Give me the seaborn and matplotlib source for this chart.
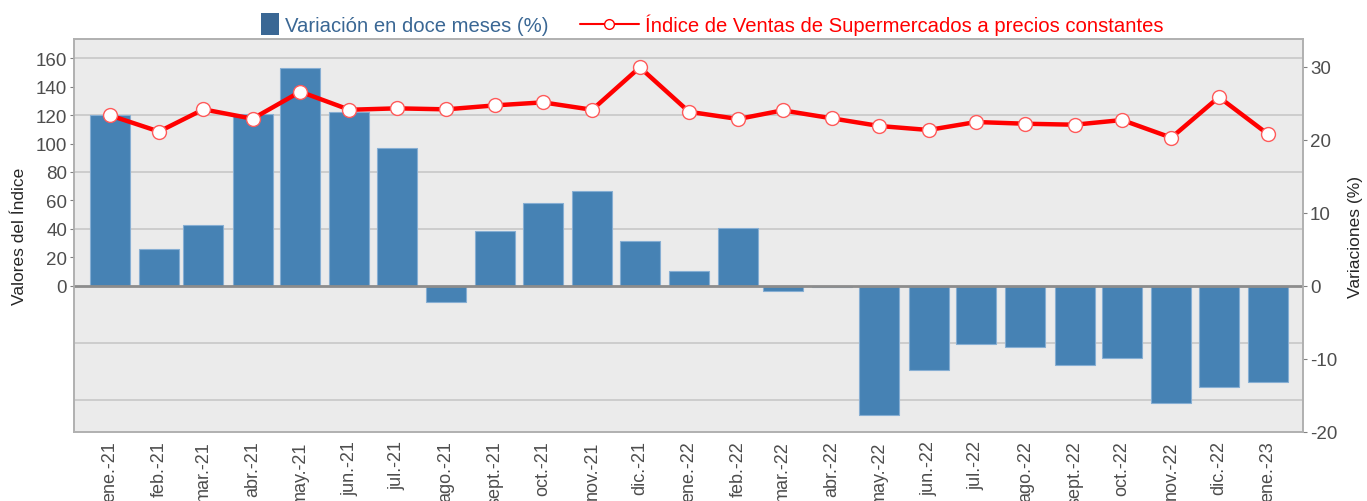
import pandas as pd
import matplotlib.pyplot as plt
import seaborn as sns
from matplotlib.patches import Patch
from matplotlib.lines import Line2D

# monthly data, ene-21 .. ene-23
meses = ['ene.-21', 'feb.-21', 'mar.-21', 'abr.-21', 'may.-21', 'jun.-21', 'jul.-21',
         'ago.-21', 'sept.-21', 'oct.-21', 'nov.-21', 'dic.-21', 'ene.-22', 'feb.-22',
         'mar.-22', 'abr.-22', 'may.-22', 'jun.-22', 'jul.-22', 'ago.-22', 'sept.-22',
         'oct.-22', 'nov.-22', 'dic.-22', 'ene.-23']

# Variación en doce meses (%)
variacion = [23.4, 5.1, 8.3, 23.5, 29.8, 23.8, 18.9, -2.2, 7.5, 11.3, 13.0, 6.2, 2.1,
             7.9, -0.7, -0.2, -17.7, -11.5, -7.9, -8.3, -10.8, -9.9, -16.0, -13.8, -13.2]

# Índice de Ventas de Supermercados a precios constantes
indice = [119.8, 108.4, 124.0, 117.4, 136.4, 123.7, 124.7, 124.0, 126.8, 128.9, 123.7,
          153.5, 122.3, 117.2, 123.3, 117.7, 112.3, 109.5, 115.1, 113.9, 113.2, 116.5,
          104.1, 132.6, 106.5]

fechas = pd.date_range('2021-01-01', periods=len(meses), freq='MS')
dias = (fechas - fechas[0]).days.values

df = pd.DataFrame({'dia': dias, 'mes': meses, 'variacion': variacion, 'indice': indice})

sns.set_style('white')
plt.rcParams['font.family'] = ['Liberation Sans', 'DejaVu Sans']
plt.rcParams['axes.unicode_minus'] = False

fig = plt.figure(figsize=(13.67, 5.02), dpi=100)
ax = fig.add_axes([74 / 1367, 1 - 433 / 502, (1303 - 74) / 1367, (433 - 40) / 502])
ax.set_facecolor('#EBEBEB')

# left (index) and right (%) scales share the zero
left_lim = (-102.6, 173.4)
right_lim = (-20, 33.8)
k = right_lim[0] / left_lim[0]

# bars on the base axes
sns.barplot(data=df, x='dia', y='variacion', native_scale=True, width=0.9,
            color='#4682B4', edgecolor='#86AED3', linewidth=0.8, saturation=1,
            errorbar=None, ax=ax, zorder=2)
for g in [-80, -40, 40, 80, 120, 160]:
    ax.axhline(g * k, color='#CACACA', lw=1.3, zorder=0)
ax.axhline(0, color='#8C8C8C', lw=2, zorder=3)
ax.set_ylim(*right_lim)
ax.set_yticks([-20, -10, 0, 10, 20, 30])
ax.set_xlabel('')

# index line on the twin axes
ax2 = ax.twinx()
sns.lineplot(data=df, x='dia', y='indice', color='red', lw=3.2, marker='o',
             markersize=10, markerfacecolor='white', markeredgecolor='#FF5A5A',
             markeredgewidth=1, ax=ax2, zorder=4)
ax2.set_ylim(*left_lim)
ax2.set_yticks(range(0, 161, 20))
ax2.set_xlabel('')

# swap sides: index on the left, % on the right
ax2.yaxis.tick_left()
ax2.yaxis.set_label_position('left')
ax2.set_ylabel('Valores del Índice', fontsize=12.5, labelpad=6)
ax.yaxis.tick_right()
ax.yaxis.set_label_position('right')
ax.set_ylabel('Variaciones (%)', fontsize=12.5, labelpad=8)

ax.set_xlim(-22.6, dias[-1] + 22)
ax.set_xticks(dias)
ax.set_xticklabels(meses, rotation=90)

for a in (ax, ax2):
    for s in a.spines.values():
        s.set_color('#B0B0B0')
        s.set_linewidth(1.2)
    a.tick_params(axis='both', direction='out', length=3, color='#808080',
                  labelcolor='#4D4D4D', labelsize=13.5, pad=2)
ax.tick_params(axis='x', labelsize=13, pad=3)

# two legend entries drawn separately (different handle widths)
leg1 = fig.legend([Patch(facecolor='#3A6794', edgecolor='none')],
                  ['Variación en doce meses (%)'],
                  loc='center left', bbox_to_anchor=(261 / 1367, 1 - 25 / 502),
                  frameon=False, fontsize=14.6, handlelength=0.9, handleheight=1.3,
                  handletextpad=0.3, borderpad=0, borderaxespad=0)
leg1.get_texts()[0].set_color('#3A6794')
leg2 = fig.legend([Line2D([], [], color='red', lw=1.5, marker='o', markersize=7,
                          markerfacecolor='white', markeredgecolor='red')],
                  ['Índice de Ventas de Supermercados a precios constantes'],
                  loc='center left', bbox_to_anchor=(580 / 1367, 1 - 25 / 502),
                  frameon=False, fontsize=14.6, handlelength=2.9,
                  handletextpad=0.3, borderpad=0, borderaxespad=0)
leg2.get_texts()[0].set_color('red')

fig.savefig('out.png', dpi=100)
